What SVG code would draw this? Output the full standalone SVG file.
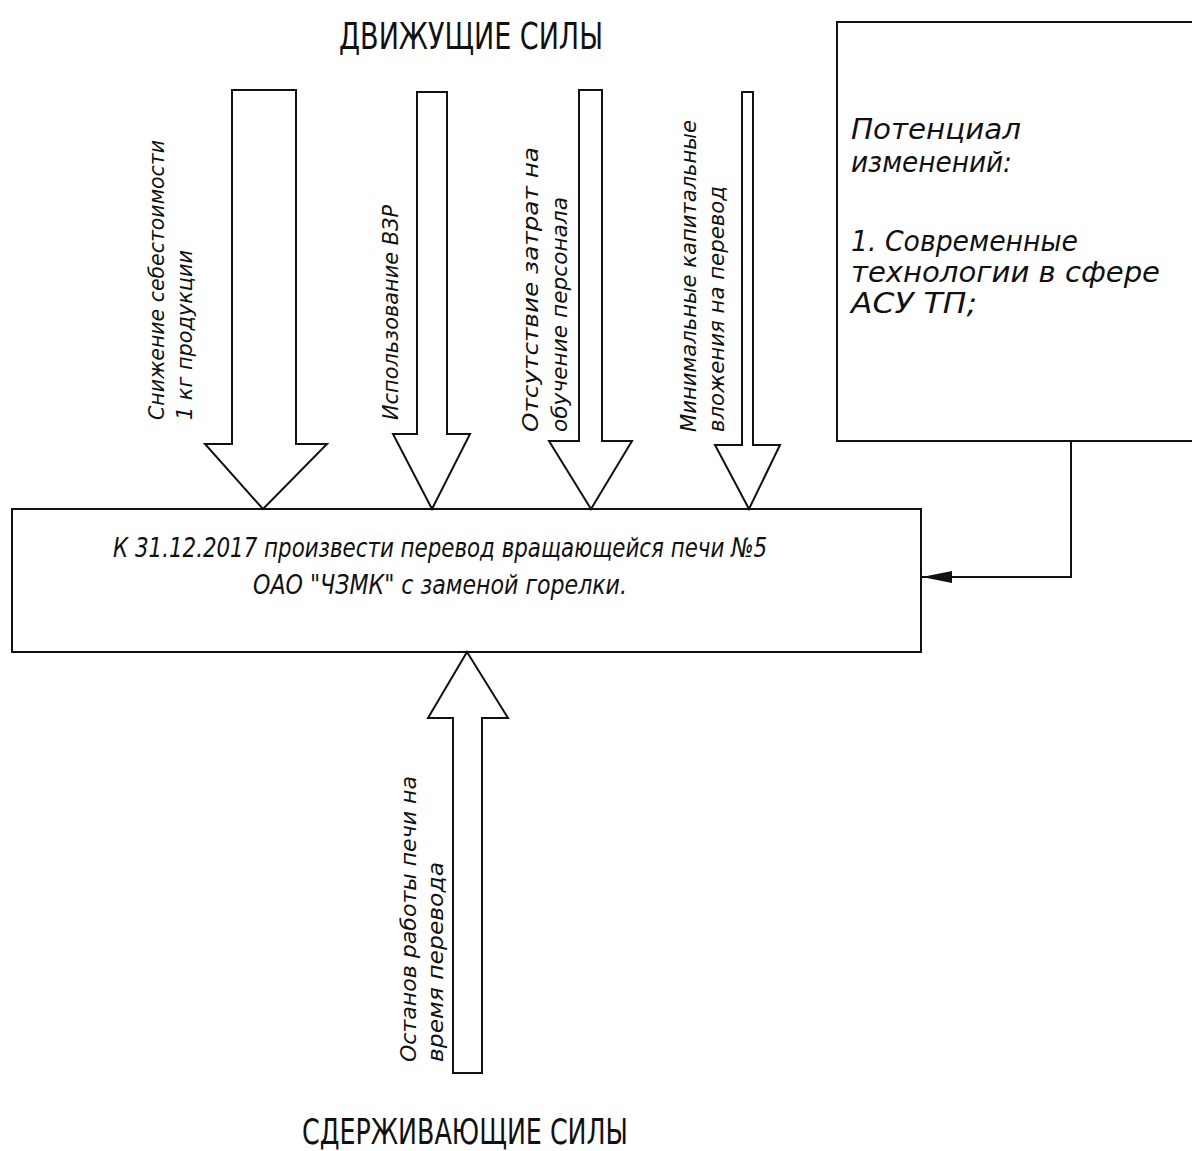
<svg xmlns="http://www.w3.org/2000/svg" width="1192" height="1151" viewBox="0 0 1192 1151">
<style>
.ln{fill:#fff;stroke:#111;stroke-width:2}
.t{font-family:"Liberation Sans Narrow","DejaVu Sans Condensed","Liberation Sans",sans-serif;font-style:italic;fill:#111}
.h{font-family:"Liberation Sans Narrow","DejaVu Sans Condensed","Liberation Sans",sans-serif;fill:#111}
.v{font-size:21px}
</style>
<defs>
<marker id="ah" markerWidth="30" markerHeight="12" refX="30" refY="6" orient="auto" markerUnits="userSpaceOnUse">
<path d="M0,0 L30,6 L0,12 Z" fill="#111"/>
</marker>
</defs>
<rect width="1192" height="1151" fill="#fff"/>
<text class="h" x="339" y="49" font-size="38" textLength="264" lengthAdjust="spacingAndGlyphs">ДВИЖУЩИЕ СИЛЫ</text>
<text class="h" x="302" y="1144" font-size="36" textLength="326" lengthAdjust="spacingAndGlyphs">СДЕРЖИВАЮЩИЕ СИЛЫ</text>

<g id="connectors">
<polyline points="1071,441 1071,577 922,577" fill="none" stroke="#111" stroke-width="2" marker-end="url(#ah)"/>
</g>

<g id="main">
<rect class="ln" x="12" y="509" width="909" height="143"/>
<text class="t" x="440" y="557" text-anchor="middle" font-size="27" textLength="654" lengthAdjust="spacingAndGlyphs">К 31.12.2017 произвести перевод вращающейся печи №5</text>
<text class="t" x="440" y="594" text-anchor="middle" font-size="27" textLength="374" lengthAdjust="spacingAndGlyphs">ОАО "ЧЗМК" с заменой горелки.</text>
</g>

<g id="potential">
<rect class="ln" x="837" y="22" width="370" height="419"/>
<g class="t" font-size="28">
<text x="851" y="139" textLength="170" lengthAdjust="spacingAndGlyphs">Потенциал</text>
<text x="851" y="172" textLength="161" lengthAdjust="spacingAndGlyphs">изменений:</text>
<text x="851" y="251" textLength="227" lengthAdjust="spacingAndGlyphs">1. Современные</text>
<text x="851" y="282" textLength="309" lengthAdjust="spacingAndGlyphs">технологии в сфере</text>
<text x="851" y="313" textLength="126" lengthAdjust="spacingAndGlyphs">АСУ ТП;</text>
</g>
</g>

<g id="force1">
<polygon class="ln" points="232,90 296,90 296,444 327,444 263,509 205,444 232,444"/>
<g class="t v" transform="translate(164,420) rotate(-90)">
<text x="0" y="0" textLength="280" lengthAdjust="spacingAndGlyphs">Снижение себестоимости</text>
<text x="0" y="28" textLength="170" lengthAdjust="spacingAndGlyphs">1 кг продукции</text>
</g>
</g>

<g id="force2">
<polygon class="ln" points="417,92 447,92 447,434 470,434 432,509 393,434 417,434"/>
<g class="t v" transform="translate(398,420) rotate(-90)">
<text x="0" y="0" textLength="215" lengthAdjust="spacingAndGlyphs">Использование ВЗР</text>
</g>
</g>

<g id="force3">
<polygon class="ln" points="579,90 602,90 602,441 632,441 591,509 549,441 579,441"/>
<g class="t v" transform="translate(538,432) rotate(-90)">
<text x="0" y="0" textLength="285" lengthAdjust="spacingAndGlyphs">Отсутствие затрат на</text>
<text x="0" y="29" textLength="235" lengthAdjust="spacingAndGlyphs">обучение персонала</text>
</g>
</g>

<g id="force4">
<polygon class="ln" points="742,92 753,92 753,445 780,445 749,509 715,445 742,445"/>
<g class="t v" transform="translate(696,432) rotate(-90)">
<text x="0" y="0" textLength="312" lengthAdjust="spacingAndGlyphs">Минимальные капитальные</text>
<text x="0" y="28" textLength="246" lengthAdjust="spacingAndGlyphs">вложения на перевод</text>
</g>
</g>

<g id="restrain1">
<polygon class="ln" points="467,652 508,718 482,718 482,1073 453,1073 453,718 428,718"/>
<g class="t v" transform="translate(416,1062) rotate(-90)">
<text x="0" y="0" textLength="286" lengthAdjust="spacingAndGlyphs">Останов работы печи на</text>
<text x="0" y="27" textLength="200" lengthAdjust="spacingAndGlyphs">время перевода</text>
</g>
</g>
</svg>
